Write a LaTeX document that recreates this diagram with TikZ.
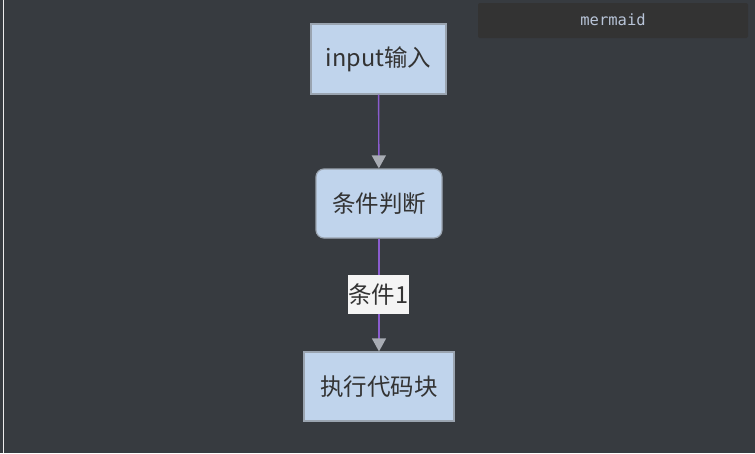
\documentclass[tikz,border=0pt]{standalone}
\usepackage{fontspec}
\setmainfont{Noto Sans CJK SC}
\setmonofont{DejaVu Sans Mono}
\usetikzlibrary{arrows.meta}
\definecolor{bgdark}{HTML}{373B40}
\definecolor{boxfill}{HTML}{C0D4EC}
\definecolor{boxline}{HTML}{9AA4B0}
\definecolor{edgeline}{HTML}{8A5CCF}
\definecolor{tipgray}{HTML}{A8ACB4}
\definecolor{labelfill}{HTML}{F4F4F4}
\definecolor{textdark}{HTML}{333333}
\definecolor{tagfill}{HTML}{333333}
\definecolor{tagtext}{HTML}{B8C4D8}
\tikzset{
	stepnode/.style={draw=boxline, line width=1.2pt, fill=boxfill, text=textdark,
		font=\fontsize{23.5}{27}\selectfont, inner sep=0pt},
	flow/.style={draw=edgeline, line width=1.4pt,
		-{Triangle[width=14pt,length=13pt,color=tipgray]}},
	edgelabel/.style={fill=labelfill, text=textdark, inner sep=0pt,
		font=\fontsize{23.5}{27}\selectfont}
}
\begin{document}
\begin{tikzpicture}[x=1pt, y=-1pt]
	% background and frame
	\fill[bgdark] (0,0) rectangle (755,453);
	\useasboundingbox (0,0) rectangle (755,453);
	\draw[white!85!gray, line width=1.5pt] (3.5,0) -- (3.5,453);
	% mermaid tag
	\fill[tagfill, rounded corners=2pt] (478,3) rectangle (748,38);
	\node[text=tagtext, font=\ttfamily\fontsize{15.5}{18}\selectfont] (tag) at (613,20) {mermaid};
	% nodes
	\node[stepnode, minimum width=135pt, minimum height=70pt] (input) at (378.5,59) {input输入};
	\node[stepnode, rounded corners=8pt, minimum width=126pt, minimum height=69pt] (cond) at (379,203.5) {条件判断};
	\node[stepnode, minimum width=150pt, minimum height=69pt] (exec) at (379,386.5) {执行代码块};
	% edges
	\draw[flow] (input) -- (cond);
	\draw[flow] (cond) -- (exec);
	\node[edgelabel, minimum width=61pt, minimum height=39pt] (condone) at (378.5,294.5) {条件1};
\end{tikzpicture}
\end{document}
